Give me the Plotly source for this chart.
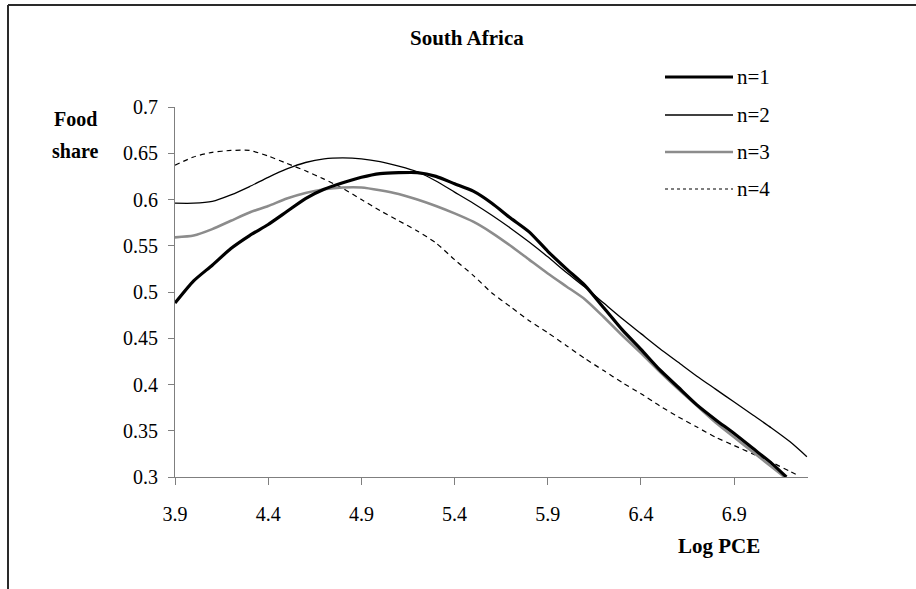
import plotly.graph_objects as go

# ---------------- data ----------------
x_n1 = [3.9, 4.0, 4.1, 4.2, 4.3, 4.4, 4.5, 4.6, 4.7, 4.8, 4.9, 5.0, 5.1, 5.2, 5.3, 5.4, 5.5, 5.6,
        5.7, 5.8, 5.9, 6.0, 6.1, 6.2, 6.3, 6.4, 6.5, 6.6, 6.7, 6.8, 6.9, 7.0, 7.1, 7.18]
y_n1 = [0.488, 0.512, 0.529, 0.547, 0.561, 0.573, 0.587, 0.601, 0.611, 0.618, 0.624, 0.628, 0.629, 0.629,
        0.625, 0.617, 0.609, 0.596, 0.580, 0.565, 0.544, 0.525, 0.507, 0.483, 0.459, 0.438, 0.416, 0.397,
        0.378, 0.362, 0.347, 0.331, 0.315, 0.300]

x_n2 = [3.9, 4.0, 4.1, 4.2, 4.3, 4.4, 4.5, 4.6, 4.7, 4.8, 4.9, 5.0, 5.1, 5.2, 5.3, 5.4, 5.5, 5.6,
        5.7, 5.8, 5.9, 6.0, 6.1, 6.2, 6.3, 6.4, 6.5, 6.6, 6.7, 6.8, 6.9, 7.0, 7.1, 7.2, 7.29]
y_n2 = [0.596, 0.596, 0.598, 0.605, 0.614, 0.624, 0.633, 0.640, 0.644, 0.645, 0.644, 0.641, 0.636, 0.630,
        0.620, 0.608, 0.596, 0.583, 0.569, 0.554, 0.538, 0.521, 0.505, 0.488, 0.471, 0.455, 0.439, 0.424,
        0.409, 0.395, 0.381, 0.367, 0.353, 0.338, 0.322]

x_n3 = [3.9, 4.0, 4.1, 4.2, 4.3, 4.4, 4.5, 4.6, 4.7, 4.8, 4.9, 5.0, 5.1, 5.2, 5.3, 5.4, 5.5, 5.6,
        5.7, 5.8, 5.9, 6.0, 6.1, 6.2, 6.3, 6.4, 6.5, 6.6, 6.7, 6.8, 6.9, 7.0, 7.1, 7.17]
y_n3 = [0.559, 0.561, 0.568, 0.577, 0.586, 0.593, 0.601, 0.607, 0.611, 0.613, 0.613, 0.610, 0.606, 0.600,
        0.593, 0.585, 0.576, 0.564, 0.550, 0.535, 0.520, 0.506, 0.492, 0.473, 0.453, 0.434, 0.414, 0.395,
        0.377, 0.359, 0.343, 0.327, 0.311, 0.300]

x_n4 = [3.9, 4.0, 4.1, 4.2, 4.3, 4.4, 4.5, 4.6, 4.7, 4.8, 4.9, 5.0, 5.1, 5.2, 5.3, 5.4, 5.5, 5.6,
        5.7, 5.8, 5.9, 6.0, 6.1, 6.2, 6.3, 6.4, 6.5, 6.6, 6.7, 6.8, 6.9, 7.0, 7.1, 7.2, 7.25]
y_n4 = [0.637, 0.646, 0.651, 0.653, 0.653, 0.647, 0.639, 0.631, 0.622, 0.612, 0.600, 0.588, 0.577, 0.566,
        0.553, 0.535, 0.518, 0.499, 0.484, 0.469, 0.456, 0.442, 0.428, 0.415, 0.402, 0.390, 0.377, 0.365,
        0.354, 0.343, 0.334, 0.325, 0.316, 0.306, 0.301]

series_names = ["n=1", "n=2", "n=3", "n=4"]
x_tickvals = [3.9, 4.4, 4.9, 5.4, 5.9, 6.4, 6.9]
x_ticktext = ["3.9", "4.4", "4.9", "5.4", "5.9", "6.4", "6.9"]
y_tickvals = [0.3, 0.35, 0.4, 0.45, 0.5, 0.55, 0.6, 0.65, 0.7]
y_ticktext = ["0.3", "0.35", "0.4", "0.45", "0.5", "0.55", "0.6", "0.65", "0.7"]

title_text = "South Africa"
x_title = "Log PCE"
y_title = ["Food", "share"]

# ---------------- layout geometry ----------------
W, H = 916, 589
ML, MR, MT, MB = 175, 108, 107, 112
PW, PH = W - ML - MR, H - MT - MB
FONT = "Liberation Serif"


def px(xp):
    return (xp - ML) / PW


def py(yp):
    return (H - MB - yp) / PH


styles = [
    dict(color="#000000", width=3.2, dash="solid"),
    dict(color="#000000", width=1.3, dash="solid"),
    dict(color="#8c8c8c", width=2.6, dash="solid"),
    dict(color="#000000", width=1.2, dash="5px,4px"),
]

fig = go.Figure()
xs = [x_n1, x_n2, x_n3, x_n4]
ys = [y_n1, y_n2, y_n3, y_n4]
order = [3, 2, 1, 0]
for i in order:
    fig.add_trace(go.Scatter(
        x=xs[i], y=ys[i], mode="lines", name=series_names[i],
        line=dict(color=styles[i]["color"], width=styles[i]["width"], dash=styles[i]["dash"],
                  shape="spline", smoothing=0.6),
        showlegend=False, hoverinfo="skip"))

shapes = []
annotations = []

# frame (top and left edges of the original chart box)
shapes.append(dict(type="line", xref="paper", yref="paper", x0=px(8), x1=px(916), y0=py(5), y1=py(5),
                   line=dict(color="#2a2a2a", width=2)))
shapes.append(dict(type="line", xref="paper", yref="paper", x0=px(8), x1=px(8), y0=py(5), y1=py(589),
                   line=dict(color="#2a2a2a", width=2)))

# manual legend
leg_rows = [77, 115, 152, 189]
for i, yrow in enumerate(leg_rows):
    shapes.append(dict(type="line", xref="paper", yref="paper", x0=px(665), x1=px(733),
                       y0=py(yrow), y1=py(yrow),
                       line=dict(color=styles[i]["color"], width=styles[i]["width"],
                                 dash="3px,3px" if i == 3 else "solid")))
    annotations.append(dict(text=series_names[i], xref="paper", yref="paper", x=px(735), y=py(yrow),
                            xanchor="left", yanchor="middle", showarrow=False,
                            font=dict(family=FONT, size=21, color="#000")))

annotations.append(dict(text="<b>%s</b>" % title_text, xref="paper", yref="paper", x=px(467), y=py(38),
                        xanchor="center", yanchor="middle", showarrow=False,
                        font=dict(family=FONT, size=21, color="#000")))
annotations.append(dict(text="<b>%s</b>" % x_title, xref="paper", yref="paper", x=px(719), y=py(546),
                        xanchor="center", yanchor="middle", showarrow=False,
                        font=dict(family=FONT, size=21, color="#000")))
for t, yp in zip(y_title, [119, 151]):
    annotations.append(dict(text="<b>%s</b>" % t, xref="paper", yref="paper", x=px(75), y=py(yp),
                            xanchor="center", yanchor="middle", showarrow=False,
                            font=dict(family=FONT, size=20, color="#000")))

fig.update_layout(
    width=W, height=H,
    margin=dict(l=ML, r=MR, t=MT, b=MB, pad=0),
    paper_bgcolor="white", plot_bgcolor="white",
    showlegend=False,
    font=dict(family=FONT, size=20, color="#000"),
    shapes=shapes, annotations=annotations,
    xaxis=dict(range=[3.9, 7.296], tickvals=x_tickvals, ticktext=x_ticktext,
               showgrid=False, zeroline=False, showline=True, linecolor="#7f7f7f", linewidth=1,
               ticks="outside", ticklen=7, tickcolor="#7f7f7f", tickwidth=1,
               tickfont=dict(family=FONT, size=20, color="#000"), ticklabelstandoff=12),
    yaxis=dict(range=[0.3, 0.7], tickvals=y_tickvals, ticktext=y_ticktext,
               showgrid=False, zeroline=False, showline=True, linecolor="#7f7f7f", linewidth=1,
               ticks="outside", ticklen=6, tickcolor="#7f7f7f", tickwidth=1,
               tickfont=dict(family=FONT, size=20, color="#000"), ticklabelstandoff=6),
)

fig.write_html("out.html", config={"displayModeBar": False},
               post_script="document.body.style.margin='0px';document.body.style.padding='0px';")
